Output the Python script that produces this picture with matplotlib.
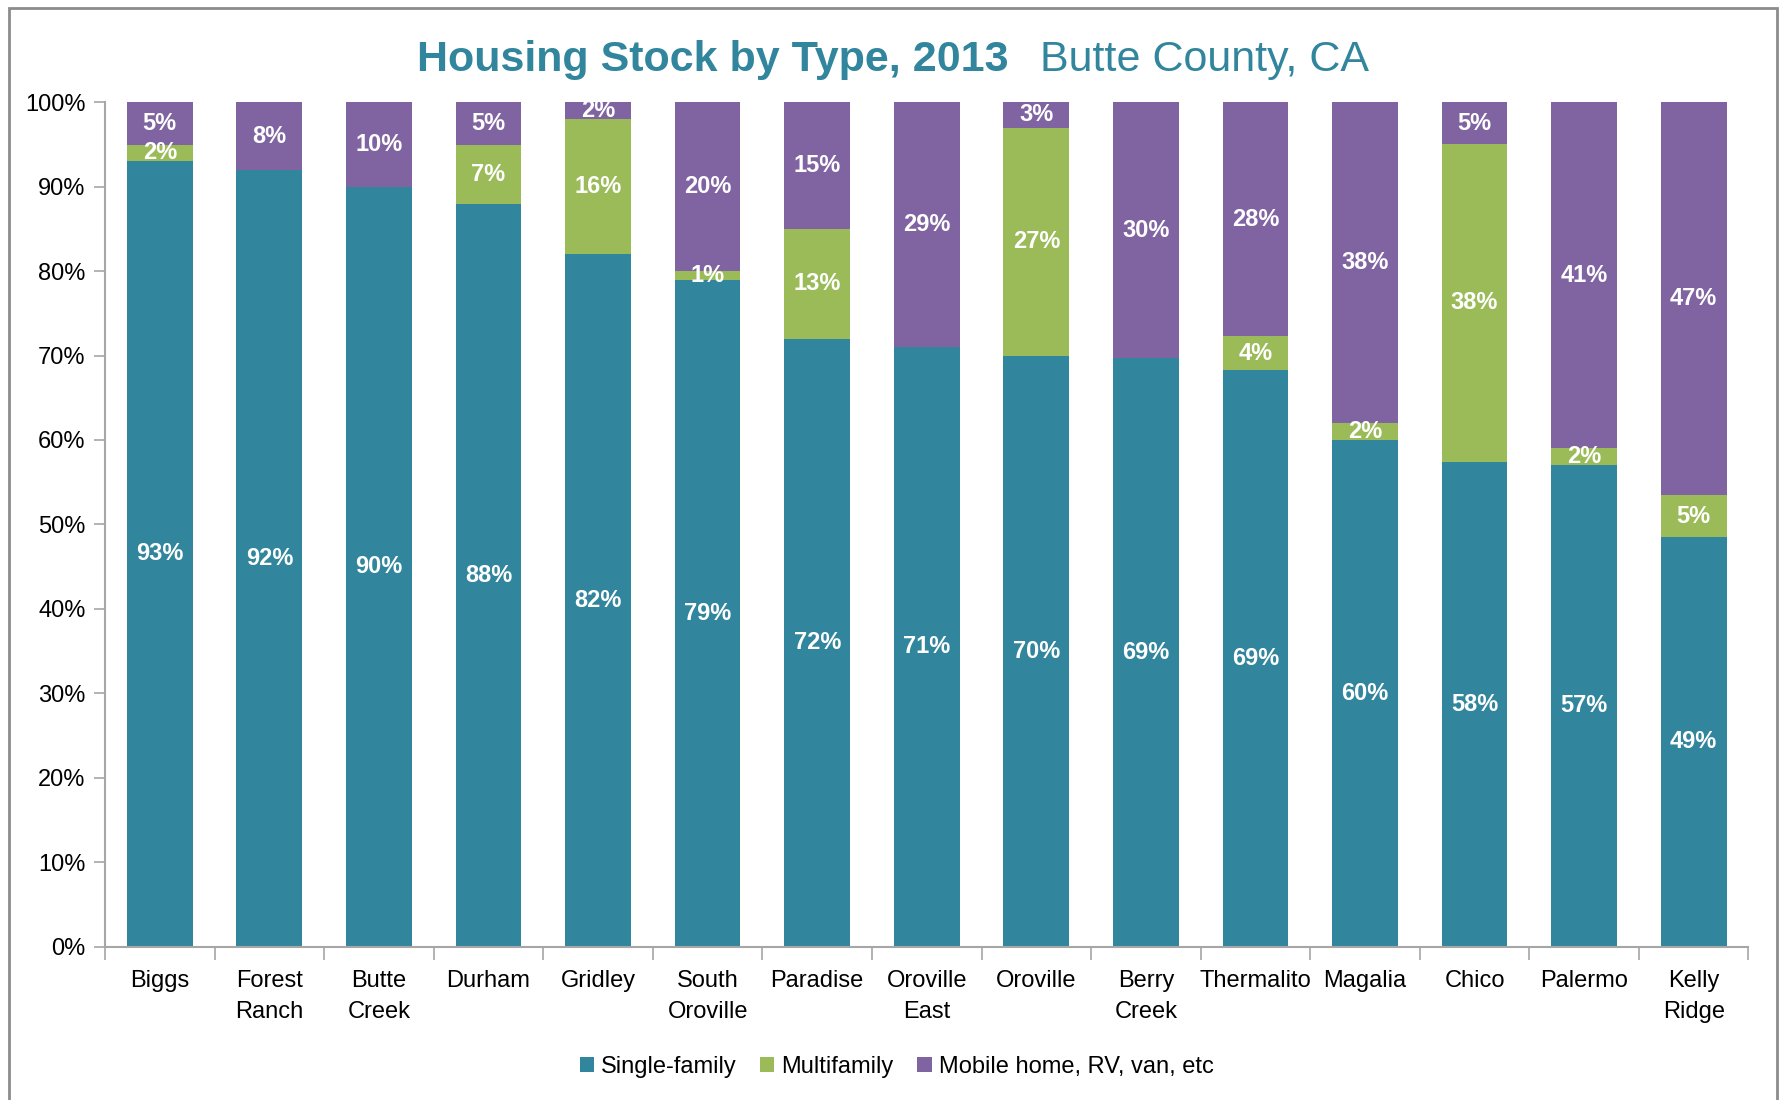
import matplotlib
matplotlib.use("Agg")
import matplotlib.pyplot as plt
import numpy as np
from matplotlib.patches import Rectangle
from matplotlib.ticker import FixedLocator, PercentFormatter

plt.rcParams['font.family'] = ['Liberation Sans', 'DejaVu Sans']

categories = ["Biggs", "Forest\nRanch", "Butte\nCreek", "Durham", "Gridley", "South\nOroville",
              "Paradise", "Oroville\nEast", "Oroville", "Berry\nCreek", "Thermalito", "Magalia",
              "Chico", "Palermo", "Kelly\nRidge"]
single_family = [93, 92, 90, 88, 82, 79, 72, 71, 70, 69, 69, 60, 58, 57, 49]
multifamily   = [2, 0, 0, 7, 16, 1, 13, 0, 27, 0, 4, 2, 38, 2, 5]
mobile_home   = [5, 8, 10, 5, 2, 20, 15, 29, 3, 30, 28, 38, 5, 41, 47]
series_names = ["Single-family", "Multifamily", "Mobile home, RV, van, etc"]
y_ticks = [0, 10, 20, 30, 40, 50, 60, 70, 80, 90, 100]
title_bold = "Housing Stock by Type, 2013"
title_normal = "Butte County, CA"

colors = ["#31859C", "#9BBB59", "#8064A2"]
title_color = "#31859C"

fig = plt.figure(figsize=(17.86, 11.0), dpi=100)
ax = fig.add_axes([0.0588, 0.1395, 0.9202, 0.7675])

data = np.array([single_family, multifamily, mobile_home], dtype=float)
totals = data.sum(axis=0)
heights = data / totals * 100.0
x = np.arange(len(categories))
bottom = np.zeros(len(categories))
for i in range(3):
    bars = ax.bar(x, heights[i], 0.6, bottom=bottom, color=colors[i], label=series_names[i],
                  edgecolor='none', zorder=2)
    for j, b in enumerate(bars):
        if data[i, j] > 0:
            ax.text(b.get_x() + b.get_width() / 2, bottom[j] + heights[i, j] / 2,
                    f"{int(data[i, j])}%", ha='center', va='center', color='white',
                    fontsize=17, fontweight='bold', zorder=3)
    bottom += heights[i]

ax.set_xlim(-0.5, len(categories) - 0.5)
ax.set_ylim(0, 100)
ax.set_yticks(y_ticks)
ax.yaxis.set_major_formatter(PercentFormatter(decimals=0))
ax.set_xticks(x)
ax.set_xticklabels(categories, fontsize=17, linespacing=1.5)
ax.xaxis.set_minor_locator(FixedLocator(np.arange(-0.5, len(categories), 1.0)))
ax.tick_params(axis='x', which='major', length=0, pad=17)
ax.tick_params(axis='x', which='minor', length=9, color='#A6A6A6', width=1.2)
ax.tick_params(axis='y', which='major', length=8, color='#A6A6A6', width=1.2, labelsize=17, pad=6)

for s in ['top', 'right']:
    ax.spines[s].set_visible(False)
for s in ['left', 'bottom']:
    ax.spines[s].set_color('#A6A6A6')
    ax.spines[s].set_linewidth(1.5)

# Title in two parts, centred as a whole
renderer = fig.canvas.get_renderer()
t1 = fig.text(0, 0.935, title_bold, fontsize=31, fontweight='bold',
              color=title_color, ha='left', va='baseline')
t2 = fig.text(0, 0.935, title_normal, fontsize=31, color=title_color,
              ha='left', va='baseline')
w1 = t1.get_window_extent(renderer).width / fig.bbox.width
w2 = t2.get_window_extent(renderer).width / fig.bbox.width
gap = 32 / 1786
start = 0.5 - (w1 + gap + w2) / 2
t1.set_x(start)
t2.set_x(start + w1 + gap)

fig.legend(loc='center', bbox_to_anchor=(0.502, 0.03), ncol=3, frameon=False, fontsize=17,
           handlelength=0.6, handleheight=0.6, handletextpad=0.3, columnspacing=1.0)

fig.patches.append(Rectangle((9 / 1786, -0.1), (1777 - 9) / 1786, 1.1 - 8 / 1100,
                             transform=fig.transFigure, fill=False, edgecolor='#8C8C8C',
                             linewidth=2.0))

fig.savefig("out.png", dpi=100, facecolor='white')
